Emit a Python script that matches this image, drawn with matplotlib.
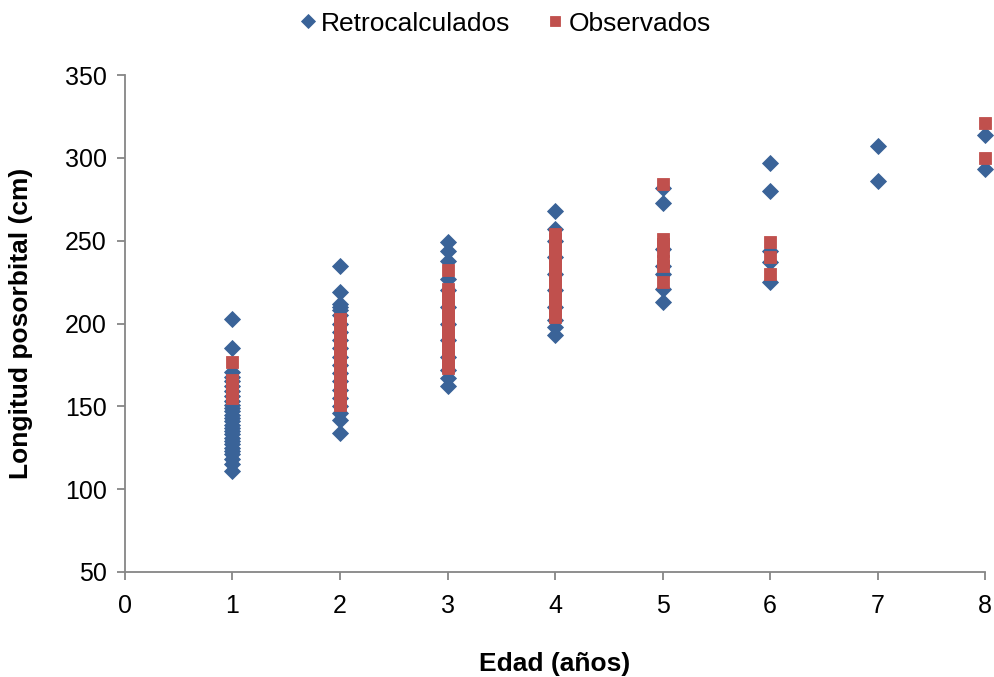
import matplotlib.pyplot as plt

plt.rcParams['font.family'] = ['Liberation Sans', 'DejaVu Sans']

# longitudes retrocalculadas por edad
retro_1 = [203, 185, 171, 168, 165, 162, 159, 156, 153, 151, 149, 147, 145, 143, 141,
           139, 137, 135, 133, 131, 129, 127, 125, 123, 121, 118, 115, 111]
retro_2 = [235, 219, 212, 210, 208, 205, 200, 195, 190, 185, 180, 175, 170, 165, 160,
           155, 150, 146, 142, 134]
retro_3 = [249, 244, 238, 227, 220, 210, 200, 190, 180, 172, 167, 162]
retro_4 = [268, 257, 250, 240, 230, 220, 210, 202, 198, 193]
retro_5 = [282, 273, 245, 235, 230, 221, 213]
retro_6 = [297, 280, 244, 237, 225]
retro_7 = [307, 286]
retro_8 = [314, 293]

# longitudes observadas por edad
obs_1 = [177, 166, 163, 160, 157, 155]
obs_2 = [203, 200, 197, 194, 191, 188, 185, 182, 179, 176, 173, 170, 167, 164, 161,
         158, 155, 152, 151]
obs_3 = [232, 221, 218, 215, 212, 209, 206, 203, 200, 197, 194, 191, 188, 185, 182,
         179, 176, 173]
obs_4 = [254, 251, 248, 245, 242, 239, 236, 233, 230, 227, 224, 221, 218, 215, 212,
         209, 206, 204]
obs_5 = [284, 251, 248, 244, 238, 235, 225]
obs_6 = [249, 240, 230]
obs_8 = [321, 300]

retro = {1: retro_1, 2: retro_2, 3: retro_3, 4: retro_4,
         5: retro_5, 6: retro_6, 7: retro_7, 8: retro_8}
obs = {1: obs_1, 2: obs_2, 3: obs_3, 4: obs_4, 5: obs_5, 6: obs_6, 8: obs_8}

rx = [e for e, v in retro.items() for _ in v]
ry = [y for v in retro.values() for y in v]
ox = [e for e, v in obs.items() for _ in v]
oy = [y for v in obs.values() for y in v]

azul = '#3A6398'
rojo = '#C0504D'
gris = '#868686'

fig = plt.figure(figsize=(9.95, 6.77), dpi=100)
ax = fig.add_axes([0.1256, 0.1551, 0.8644, 0.7341])

ax.plot(rx, ry, 'D', color=azul, markersize=8.5, markeredgewidth=0.6,
        markeredgecolor=azul, label='Retrocalculados', clip_on=False)
ax.plot(ox, oy, 's', color=rojo, markersize=8.5, markeredgewidth=0.6,
        markeredgecolor=rojo, label='Observados', clip_on=False)

ax.set_xlim(0, 8)
ax.set_ylim(50, 350)
ax.set_xticks(range(0, 9))
ax.set_yticks(range(50, 351, 50))

for s in ['top', 'right']:
    ax.spines[s].set_visible(False)
for s in ['left', 'bottom']:
    ax.spines[s].set_color(gris)
    ax.spines[s].set_linewidth(1.3)
ax.tick_params(direction='out', length=6, width=1.3, color=gris,
               labelsize=18, pad=7)
ax.tick_params(axis='x', pad=10)

ax.set_xlabel('Edad (años)', fontsize=19, fontweight='bold', labelpad=24)
ax.set_ylabel('Longitud posorbital (cm)', fontsize=19, fontweight='bold', labelpad=23)

fig.legend(loc='upper center', bbox_to_anchor=(0.505, 1.018), ncol=2,
           frameon=False, fontsize=19, handletextpad=0.0,
           columnspacing=1.2, handlelength=1.0, markerscale=0.85)

fig.savefig('out.png', dpi=100)
